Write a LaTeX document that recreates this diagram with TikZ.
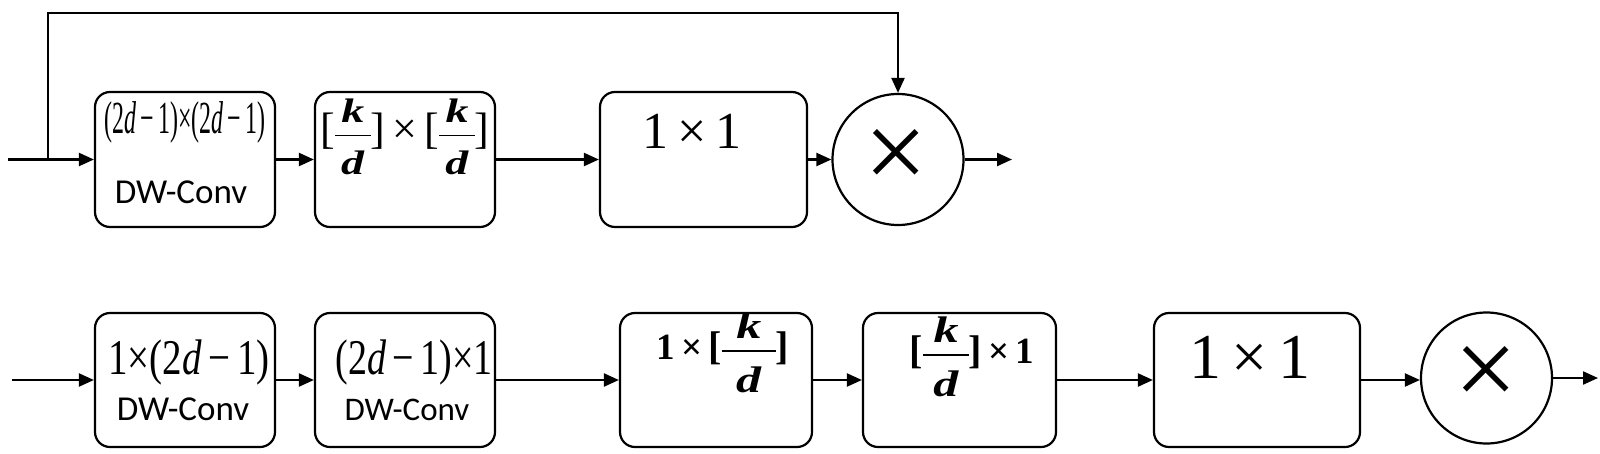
\documentclass[tikz,border=0pt]{standalone}
\usepackage{fontspec}
\setmainfont{Liberation Serif}
\newfontfamily\dwfont{Carlito}
\usetikzlibrary{arrows.meta}
% fraction k/d: #1 letter size, #2 side padding of the bar
\newcommand\kdfrac[2]{{\fontsize{#1}{#1}\selectfont\bfseries\renewcommand\arraystretch{0}\setlength\arrayrulewidth{1.8pt}%
  \begin{tabular}{@{\hspace{#2}}c@{\hspace{#2}}}\scalebox{1.35}[1]{\textit{k}}\rule[-12pt]{0pt}{12pt}\\\hline\rule{0pt}{\dimexpr 0.69em+15pt\relax}\scalebox{1.35}[1]{\textit{d}}\end{tabular}}}
\begin{document}
\begin{tikzpicture}[x=1pt,y=-1pt,
  line width=2.2pt,
  arr/.style={-{Triangle[length=15pt,width=13pt]}},
  blk/.style={draw, rounded corners=15pt, minimum height=135pt, inner sep=0pt},
  opc/.style={draw, circle, minimum size=131pt, inner sep=0pt},
  lbl/.style={inner sep=0pt, anchor=center},
  dw/.style={lbl, font=\dwfont\fontsize{35}{35}\selectfont},
  bigx/.style={lbl, font=\fontsize{112}{112}\selectfont},
]
\useasboundingbox (0,0) rectangle (1600,453);
% ---------- top row ----------
\node[blk, minimum width=180pt] (t1) at (185,159.5) {};
\node[blk, minimum width=180pt] (t2) at (405,159.5) {};
\node[blk, minimum width=207pt] (t3) at (703.5,159.5) {};
\node[opc] (tc) at (898,159.5) {};

\node[lbl] (t1a) at (185,122) {\fontsize{46}{46}\selectfont\scalebox{0.52}[1]{(2\textit{d}\,−\,1)×(2\textit{d}\,−\,1)}};
\node[dw] (t1b) at (181,192) {DW-Conv};
\node[lbl] (t2a) at (405,137) {\fontsize{44}{44}\selectfont [\kdfrac{34}{6pt}]\,×\,[\kdfrac{34}{6pt}]};
\node[lbl] (t3a) at (692,131) {\fontsize{52}{52}\selectfont 1\,×\,1};
\node[bigx] (tcx) at (896,159) {×};

\coordinate (tin) at (8,159.5);
\coordinate (tbr) at (48,159.5);
\coordinate (ttop) at (48,13);
\coordinate (tout) at (1012,159.5);
\draw[arr] (tin) -- (t1.west);
\draw[arr] (tbr) -- (ttop) -| (tc.north);
\draw[arr] (t1.east) -- (t2.west);
\draw[arr] (t2.east) -- (t3.west);
\draw[arr] (t3.east) -- (tc.west);
\draw[arr] (tc.east) -- (tout);

% ---------- bottom row ----------
\node[blk, minimum width=180pt, minimum height=134pt] (b1) at (185,380) {};
\node[blk, minimum width=180pt, minimum height=134pt] (b2) at (405,380) {};
\node[blk, minimum width=192pt, minimum height=134pt] (b3) at (716,380) {};
\node[blk, minimum width=193pt, minimum height=134pt] (b4) at (959.5,380) {};
\node[blk, minimum width=206pt, minimum height=134pt] (b5) at (1257,380) {};
\node[opc] (bc) at (1486.5,378) {};

\node[lbl] (b1a) at (189,362) {\fontsize{50}{50}\selectfont\scalebox{0.78}[1]{1×(2\textit{d}\,−\,1)}};
\node[dw] (b1b) at (183,409) {DW-Conv};
\node[lbl] (b2a) at (414,362) {\fontsize{50}{50}\selectfont\scalebox{0.76}[1]{(2\textit{d}\,−\,1)×1}};
\node[dw, font=\dwfont\fontsize{33}{33}\selectfont] (b2b) at (407,410) {DW-Conv};
\node[lbl] (b3a) at (723,353) {\bfseries{\fontsize{37}{37}\selectfont 1\,×\,}{\fontsize{40}{40}\selectfont[\kdfrac{37}{14pt}]}};
\node[lbl] (b4a) at (972,357) {\bfseries{\fontsize{40}{40}\selectfont[\kdfrac{37}{10pt}]}{\fontsize{37}{37}\selectfont\,×\,1}};
\node[lbl] (b5a) at (1250,357) {\fontsize{64}{64}\selectfont 1\,×\,1};
\node[bigx] (bcx) at (1486,376) {×};

\coordinate (bin) at (12,380);
\coordinate (bout) at (1598,378);
\draw[arr] (bin) -- (b1.west);
\draw[arr] (b1.east) -- (b2.west);
\draw[arr] (b2.east) -- (b3.west);
\draw[arr] (b3.east) -- (b4.west);
\draw[arr] (b4.east) -- (b5.west);
\draw[arr] (b5.east) -- (b5.east -| bc.west);
\draw[arr] (bc.east) -- (bout);
\end{tikzpicture}
\end{document}
